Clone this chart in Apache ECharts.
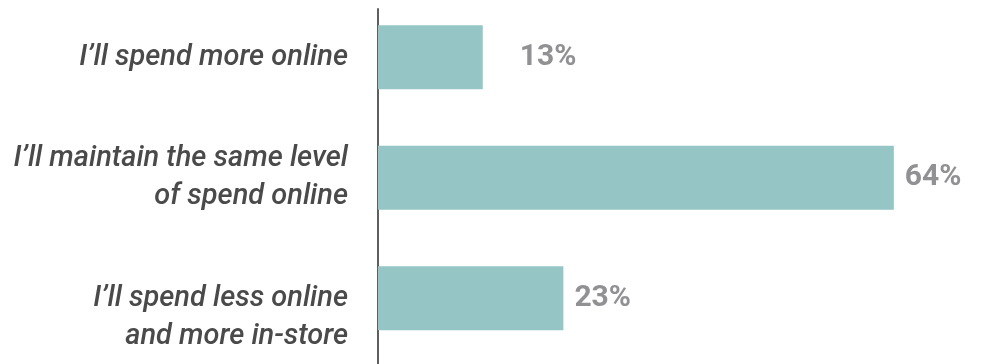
<!DOCTYPE html>
<html>
<head>
<meta charset="utf-8">
<script src="https://cdn.jsdelivr.net/npm/echarts@6/dist/echarts.min.js"></script>
<style>
html,body{margin:0;padding:0;background:#fff;}
#chart{width:982px;height:364px;}
</style>
</head>
<body>
<div id="chart"></div>
<script>
const categories = [
  "I’ll spend more online",
  "I’ll maintain the same level\nof spend online",
  "I’ll spend less online\nand more in-store"
];
const values = [13, 64, 23];

const labelFont = "Roboto, 'Liberation Sans', sans-serif";
const labelGaps = [37, 11, 11];
const leadingBlankLines = [0, 0, 1];

const chart = echarts.init(document.getElementById('chart'), null, {renderer: 'canvas'});
chart.setOption({
  animation: false,
  grid: [
    {left: 378, top: -3, bottom: 5.5, width: 806, containLabel: false, outerBoundsMode: 'none'},
    {left: 378, top: 9, bottom: 0, width: 10, containLabel: false, outerBoundsMode: 'none'}
  ],
  xAxis: [
    {gridIndex: 0, type: 'value', min: 0, max: 100, show: false},
    {gridIndex: 1, type: 'value', min: 0, max: 1, show: false}
  ],
  yAxis: [
    {
      gridIndex: 0, type: 'category', inverse: true,
      data: categories,
      axisLine: {show: false}, axisTick: {show: false}, splitLine: {show: false},
      axisLabel: {
        margin: 30, fontFamily: labelFont, fontStyle: 'italic', fontWeight: 500, fontSize: 29,
        color: '#4a4a4a', lineHeight: 38, align: 'right',
        formatter: (v, i) => '\n'.repeat(leadingBlankLines[i]) + v
      }
    },
    {
      gridIndex: 1, type: 'value', min: 0, max: 1,
      axisLine: {show: true, lineStyle: {color: '#5f5f5f', width: 2}},
      axisTick: {show: false}, axisLabel: {show: false}, splitLine: {show: false}
    }
  ],
  series: [{
    type: 'bar', xAxisIndex: 0, yAxisIndex: 0,
    barWidth: 64,
    itemStyle: {color: '#95c6c5'},
    data: values.map((v, i) => ({value: v, label: {distance: labelGaps[i]}})),
    label: {
      show: true, position: 'right',
      formatter: p => p.value + '%',
      fontFamily: labelFont, fontWeight: 'bold', fontSize: 30, color: '#919194'
    }
  }]
});
</script>
</body>
</html>
